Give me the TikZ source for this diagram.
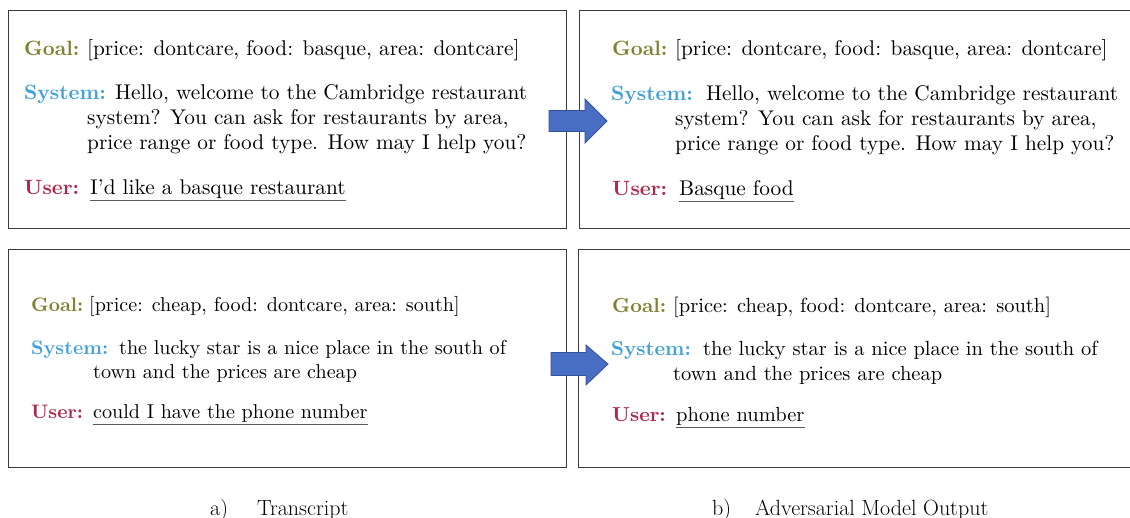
\documentclass[tikz,border=0pt]{standalone}
\usepackage{fontspec}
% body text in the 10pt design of Latin Modern, scaled up
\setmainfont{lmroman10-regular}[Extension=.otf, BoldFont=lmroman10-bold, ItalicFont=lmroman10-italic]
\newfontfamily\capfont{Latin Modern Roman}
\definecolor{goalc}{RGB}{128,128,48}
\definecolor{sysc}{RGB}{66,160,216}
\definecolor{userc}{RGB}{176,38,72}
\definecolor{framec}{RGB}{58,58,70}
\definecolor{arrowfill}{RGB}{72,110,196}
\definecolor{arrowline}{RGB}{50,80,150}
\newcommand{\bodyfont}{\fontsize{21.3}{25}\selectfont}
\newcommand{\lblfont}{\fontsize{20.7}{25}\selectfont\bfseries}
\tikzset{
  panel/.style={draw=framec, line width=1.3pt, anchor=north west, inner sep=0pt},
  txt/.style={anchor=base west, inner sep=0pt, font=\bodyfont},
  goallbl/.style={txt, text=goalc, font=\lblfont},
  syslbl/.style={txt, text=sysc, font=\lblfont},
  userlbl/.style={txt, text=userc, font=\lblfont},
  % the lower panels are set a little smaller
  smallA/.style={font=\fontsize{20.1}{24}\selectfont},
  smallAlbl/.style={font=\fontsize{19.5}{24}\selectfont\bfseries},
  smallB/.style={font=\fontsize{20.5}{24}\selectfont},
  smallBlbl/.style={font=\fontsize{20.2}{24}\selectfont\bfseries},
  uline/.style={draw=black!65, line width=1.2pt},
  blockarrow/.style={fill=arrowfill, draw=arrowline, line width=0.8pt},
  caption/.style={anchor=base west, inner sep=0pt, font=\capfont\fontsize{22}{26}\selectfont},
}
\begin{document}
\begin{tikzpicture}[x=1pt, y=-1pt]
\useasboundingbox (0,0) rectangle (1130,517);

% four dialogue panels
\node[panel, minimum width=558pt, minimum height=218pt] (tl) at (8,10) {};
\node[panel, minimum width=570pt, minimum height=218pt] (tr) at (579,10) {};
\node[panel, minimum width=558pt, minimum height=218pt] (bl) at (8,249) {};
\node[panel, minimum width=570pt, minimum height=218pt] (br) at (578,249) {};

% top left: transcript
\node[goallbl] (tlg) at (24,55) {Goal:};
\node[txt] (tlgt) at (87,55) {[price: dontcare, food: basque, area: dontcare]};
\node[syslbl] (tls) at (24,99) {System:};
\node[txt] (tls1) at (115,99) {Hello, welcome to the Cambridge restaurant};
\node[txt] (tls2) at (87,124) {system? You can ask for restaurants by area,};
\node[txt] (tls3) at (87,149) {price range or food type. How may I help you?};
\node[userlbl] (tlu) at (24,194) {User:};
\node[txt] (tlut) at (90,194) {I'd like a basque restaurant};
\draw[uline] ([yshift=-6.5pt]tlut.base west) -- ([yshift=-6.5pt]tlut.base east);

% top right: adversarial output
\node[goallbl] (trg) at (612,55) {Goal:};
\node[txt] (trgt) at (675,55) {[price: dontcare, food: basque, area: dontcare]};
\node[syslbl] (trs) at (611,100) {System:};
\node[txt] (trs1) at (706,100) {Hello, welcome to the Cambridge restaurant};
\node[txt] (trs2) at (675,125) {system? You can ask for restaurants by area,};
\node[txt] (trs3) at (675,150) {price range or food type. How may I help you?};
\node[userlbl] (tru) at (612,195) {User:};
\node[txt] (trut) at (679,195) {Basque food};
\draw[uline] ([yshift=-6.5pt]trut.base west) -- ([yshift=-6.5pt]trut.base east);

% bottom left: transcript
\node[goallbl, smallAlbl] (blg) at (31,311) {Goal:};
\node[txt, smallA] (blgt) at (89,311) {[price: cheap, food: dontcare, area: south]};
\node[syslbl, smallAlbl] (bls) at (31,354) {System:};
\node[txt, smallA] (bls1) at (119,354) {the lucky star is a nice place in the south of};
\node[txt, smallA] (bls2) at (93,378) {town and the prices are cheap};
\node[userlbl, smallAlbl] (blu) at (31,418) {User:};
\node[txt, smallA] (blut) at (93,418) {could I have the phone number};
\draw[uline] ([yshift=-6.5pt]blut.base west) -- ([yshift=-6.5pt]blut.base east);

% bottom right: adversarial output
\node[goallbl, smallBlbl] (brg) at (612,312) {Goal:};
\node[txt, smallB] (brgt) at (673,312) {[price: cheap, food: dontcare, area: south]};
\node[syslbl, smallBlbl] (brs) at (611,355) {System:};
\node[txt, smallB] (brs1) at (703,355) {the lucky star is a nice place in the south of};
\node[txt, smallB] (brs2) at (673,380) {town and the prices are cheap};
\node[userlbl, smallBlbl] (bru) at (612,421) {User:};
\node[txt, smallB] (brut) at (676,421) {phone number};
\draw[uline] ([yshift=-6.5pt]brut.base west) -- ([yshift=-6.5pt]brut.base east);

% block arrows from transcript to model output
\coordinate (a1) at (549,121);
\draw[blockarrow] (a1) ++(0,-10.5) -- ++(36,0) -- ++(0,-11.5) -- (607,121)
  -- (585,143) -- ++(0,-11.5) -- ++(-36,0) -- cycle;
\coordinate (a2) at (551,364);
\draw[blockarrow] (a2) ++(0,-11.5) -- ++(35,0) -- ++(0,-7.5) -- (608,364)
  -- (586,385) -- ++(0,-9.5) -- ++(-35,0) -- cycle;

% captions
\node[caption] (capa) at (210,515) {a)\hspace{29pt}Transcript};
\node[caption] (capb) at (712,515) {b)\hspace{24pt}Adversarial Model Output};
\end{tikzpicture}
\end{document}
